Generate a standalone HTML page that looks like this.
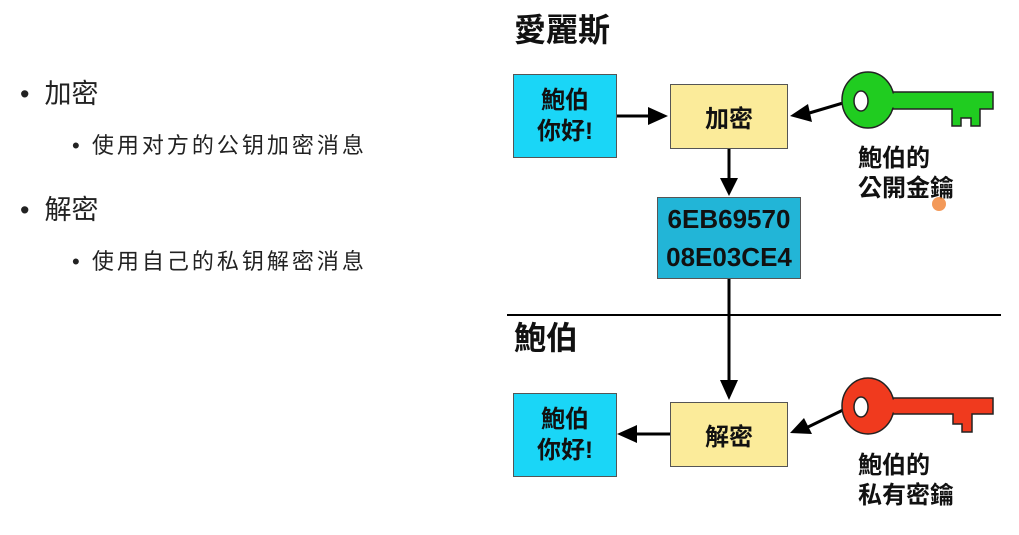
<!DOCTYPE html>
<html><head><meta charset="utf-8"><style>
body{margin:0;width:1019px;height:535px;background:#fff;overflow:hidden;position:relative;font-family:"Liberation Sans","Noto Sans CJK SC",sans-serif}
.t{position:absolute;color:#222;white-space:nowrap}
.b{position:absolute;border:1.5px solid #555;box-sizing:border-box;display:flex;align-items:center;justify-content:center;text-align:center;font-weight:bold;color:#111;font-family:"Liberation Sans","Noto Sans CJK TC",sans-serif}
.k{position:absolute;font-weight:bold;color:#111;font-family:"Liberation Sans","Noto Sans CJK TC",sans-serif;font-size:24px;line-height:30px;white-space:nowrap}
</style></head><body>
<div class="t" style="left:20px;top:72px;font-size:27px">•&nbsp; 加密</div>
<div class="t" style="left:72px;top:128px;font-size:22px;letter-spacing:3px">•&nbsp;使用对方的公钥加密消息</div>
<div class="t" style="left:20px;top:188px;font-size:27px">•&nbsp; 解密</div>
<div class="t" style="left:72px;top:244px;font-size:22px;letter-spacing:3px">•&nbsp;使用自己的私钥解密消息</div>

<div class="k" style="left:514px;top:10px;font-size:32px;line-height:40px">愛麗斯</div>
<div class="k" style="left:514px;top:318px;font-size:32px;line-height:40px">鮑伯</div>

<div class="b" style="left:513px;top:74px;width:104px;height:84px;background:#1ad6f7;font-size:24px;line-height:31px">鮑伯<br>你好!</div>
<div class="b" style="left:670px;top:84px;width:118px;height:65px;background:#fbeb9a;font-size:24px">加密</div>
<div class="b" style="left:657px;top:197px;width:144px;height:82px;background:#22b5d7;font-size:26px;line-height:38px">6EB69570<br>08E03CE4</div>
<div class="b" style="left:513px;top:393px;width:104px;height:84px;background:#1ad6f7;font-size:24px;line-height:31px">鮑伯<br>你好!</div>
<div class="b" style="left:670px;top:402px;width:118px;height:65px;background:#fbeb9a;font-size:24px">解密</div>

<div class="k" style="left:858px;top:144px">鮑伯的<br>公開金鑰</div>
<div class="k" style="left:858px;top:451px">鮑伯的<br>私有密鑰</div>

<svg width="1019" height="535" style="position:absolute;left:0;top:0">
<g fill="#000">
<line x1="617" y1="116" x2="650" y2="116" stroke="#000" stroke-width="3"/><path d="M648,107L668,116L648,125z"/>
<line x1="843" y1="103" x2="806" y2="114" stroke="#000" stroke-width="3"/><path d="M790,116L808,104L812,122z"/>
<line x1="729" y1="149" x2="729" y2="180" stroke="#000" stroke-width="3"/><path d="M720,178L729,196L738,178z"/>
<line x1="729" y1="279" x2="729" y2="382" stroke="#000" stroke-width="3"/><path d="M720,380L729,400L738,380z"/>
<line x1="670" y1="434" x2="636" y2="434" stroke="#000" stroke-width="3"/><path d="M637,425L617,434L637,443z"/>
<line x1="843" y1="410" x2="806" y2="428" stroke="#000" stroke-width="3"/><path d="M790,433L804,418L812,434z"/>
</g>
<line x1="507" y1="315" x2="1001" y2="315" stroke="#000" stroke-width="2"/>
<g stroke="#222" stroke-width="1.5">
<path d="M890,92H993V109H980V126H971V118H961V126H952V109H890Z" fill="#20cc20"/>
<ellipse cx="868" cy="100" rx="26" ry="28" fill="#20cc20"/>
<rect x="885" y="93.5" width="12" height="14" fill="#20cc20" stroke="none"/>
<ellipse cx="861" cy="101" rx="7" ry="10" fill="#fff"/>
<path d="M890,398H993V414H972V432H962V424H953V414H890Z" fill="#f03a1e"/>
<ellipse cx="868" cy="406" rx="26" ry="28" fill="#f03a1e"/>
<rect x="885" y="399.5" width="12" height="13" fill="#f03a1e" stroke="none"/>
<ellipse cx="861" cy="407" rx="7" ry="10" fill="#fff"/>
</g>
<circle cx="939" cy="204" r="7" fill="#f08030" opacity="0.8"/>
</svg>
</body></html>
